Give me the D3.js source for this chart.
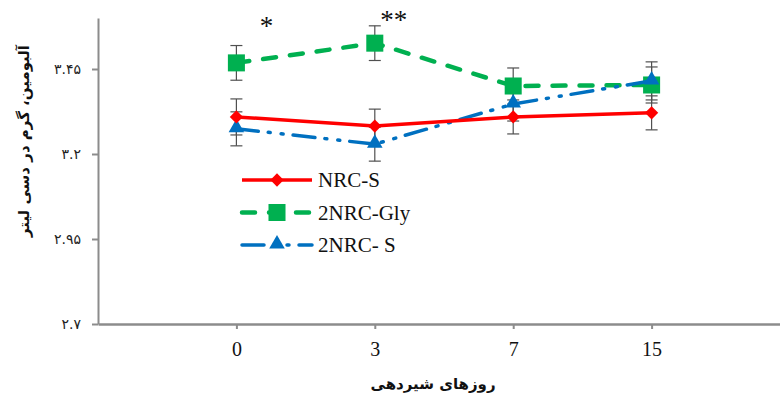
<!DOCTYPE html>
<html>
<head>
<meta charset="utf-8">
<script src="https://cdn.jsdelivr.net/npm/d3@7"></script>
<style>
  body { margin: 0; background: #fff; }
  svg { display: block; }
</style>
</head>
<body>
<div id="chart"></div>
<script>
// days of lactation
var days = ["0", "3", "7", "15"];

// albumin, g/dL
var nrcS = [3.309, 3.282, 3.309, 3.321];
var nrcGly = [3.468, 3.526, 3.400, 3.403];
var nrc2S = [3.274, 3.229, 3.347, 3.415];

// standard errors
var nrcSErr = [0.053, 0.05, 0.05, 0.05];
var nrcGlyErr = [0.051, 0.051, 0.053, 0.053];
var nrc2SErr = [0.05, 0.05, 0.05, 0.056];

var yTicks = [2.7, 2.95, 3.2, 3.45];
var yTickLabels = ["۲.۷", "۲.۹۵", "۳.۲", "۳.۴۵"];

var stars = [{day: "0", label: "*"}, {day: "3", label: "**"}];

var width = 780;
var height = 394;

var svg = d3.select("#chart").append("svg")
    .attr("width", width)
    .attr("height", height);

var x = d3.scaleLinear().domain([-1, 4]).range([98, 790]);
var y = d3.scaleLinear().domain([2.7, 3.6]).range([324, 18]);

var series = [
    {name: "2NRC-Gly", values: nrcGly, err: nrcGlyErr, color: "#00b050", width: 4.5, dash: "13 14", shape: "square"},
    {name: "2NRC- S", values: nrc2S, err: nrc2SErr, color: "#0070c0", width: 3.5, dash: "22 10 2 11 2 10", shape: "triangle"},
    {name: "NRC-S", values: nrcS, err: nrcSErr, color: "#ff0000", width: 3.5, dash: null, shape: "diamond"}
];

function markerPath(shape) {
    if (shape == "square") {
        return d3.symbol().type(d3.symbolSquare).size(290)();
    } else if (shape == "triangle") {
        return d3.symbol().type(d3.symbolTriangle).size(105)();
    } else {
        return d3.symbol().type(d3.symbolSquare).size(88)();
    }
}

function markerTransform(shape, px, py) {
    if (shape == "diamond") {
        return "translate(" + px + "," + py + ") rotate(45)";
    } else if (shape == "triangle") {
        return "translate(" + px + "," + (py - 1) + ")";
    }
    return "translate(" + px + "," + py + ")";
}

// axes
var yAxis = d3.axisLeft(y)
    .tickValues(yTicks)
    .tickFormat(function(d, i) { return yTickLabels[i]; })
    .tickSizeInner(6)
    .tickSizeOuter(0);

var gy = svg.append("g")
    .attr("transform", "translate(" + x(-1) + ",0)")
    .call(yAxis);
gy.select(".domain").attr("stroke", "#8c8c8c").attr("stroke-width", 2);
gy.selectAll(".tick line").attr("stroke", "#8c8c8c").attr("stroke-width", 2);
gy.selectAll(".tick text")
    .attr("x", -17)
    .attr("fill", "#222")
    .style("font-family", "'DejaVu Sans', sans-serif")
    .style("font-size", "14px");

var xAxis = d3.axisBottom(x)
    .tickValues([0, 1, 2, 3])
    .tickFormat(function(d) { return days[d]; })
    .tickSizeInner(5)
    .tickSizeOuter(0);

var gx = svg.append("g")
    .attr("transform", "translate(0," + y(2.7) + ")")
    .call(xAxis);
gx.select(".domain").attr("stroke", "#8c8c8c").attr("stroke-width", 2.5);
gx.selectAll(".tick line").attr("stroke", "#8c8c8c").attr("stroke-width", 2);
gx.selectAll(".tick text")
    .attr("y", 18)
    .attr("fill", "#111")
    .style("font-family", "'Liberation Serif', serif")
    .style("font-size", "20px");

// axis titles
svg.append("text")
    .attr("x", 433)
    .attr("y", 389)
    .attr("text-anchor", "middle")
    .style("font-family", "'DejaVu Sans', sans-serif")
    .style("font-weight", "bold")
    .style("font-size", "15px")
    .attr("fill", "#111")
    .text("روزهای شیردهی");

svg.append("text")
    .attr("transform", "translate(29,141) rotate(-90)")
    .attr("text-anchor", "middle")
    .style("font-family", "'DejaVu Sans', sans-serif")
    .style("font-weight", "bold")
    .style("font-size", "15px")
    .attr("fill", "#111")
    .text("آلبومین، گرم در دسی لیتر");

// error bars
series.forEach(function(s) {
    var g = svg.append("g")
        .attr("stroke", "#505050")
        .attr("stroke-width", 1.2);
    s.values.forEach(function(v, i) {
        var px = x(i);
        var top = y(v + s.err[i]);
        var bot = y(v - s.err[i]);
        g.append("line").attr("x1", px).attr("x2", px).attr("y1", top).attr("y2", bot);
        g.append("line").attr("x1", px - 6).attr("x2", px + 6).attr("y1", top).attr("y2", top);
        g.append("line").attr("x1", px - 6).attr("x2", px + 6).attr("y1", bot).attr("y2", bot);
    });
});

// lines and markers
var line = d3.line()
    .x(function(d, i) { return x(i); })
    .y(function(d) { return y(d); });

series.forEach(function(s) {
    svg.append("path")
        .datum(s.values)
        .attr("d", line)
        .attr("fill", "none")
        .attr("stroke", s.color)
        .attr("stroke-width", s.width)
        .attr("stroke-linecap", s.dash ? "round" : "butt")
        .attr("stroke-dasharray", s.dash);

    svg.append("g")
        .selectAll("path")
        .data(s.values)
        .join("path")
        .attr("d", markerPath(s.shape))
        .attr("transform", function(d, i) { return markerTransform(s.shape, x(i), y(d)); })
        .attr("fill", s.color);
});

// significance marks
svg.append("g")
    .selectAll("text")
    .data(stars)
    .join("text")
    .attr("x", function(d) { return x(days.indexOf(d.day)) + (d.label == "*" ? 30 : 19); })
    .attr("y", function(d) { return d.label == "*" ? 35 : 29; })
    .attr("text-anchor", "middle")
    .style("font-family", "'Liberation Serif', serif")
    .style("font-size", "27px")
    .attr("fill", "#111")
    .text(function(d) { return d.label; });

// legend
var legendOrder = [series[2], series[0], series[1]];
var legend = svg.append("g")
    .selectAll("g")
    .data(legendOrder)
    .join("g")
    .attr("transform", function(d, i) { return "translate(242," + (180 + i * 32.5) + ")"; });

legend.append("line")
    .attr("x1", 0).attr("x2", 70)
    .attr("y1", 0).attr("y2", 0)
    .attr("stroke", function(d) { return d.color; })
    .attr("stroke-width", function(d) { return d.width; })
    .attr("stroke-linecap", function(d) { return d.dash ? "round" : "butt"; })
    .attr("stroke-dasharray", function(d) { return d.dash; });

legend.append("path")
    .attr("d", function(d) { return markerPath(d.shape); })
    .attr("transform", function(d) { return markerTransform(d.shape, 35, 0); })
    .attr("fill", function(d) { return d.color; });

legend.append("text")
    .attr("x", 76)
    .attr("y", 7)
    .style("font-family", "'Liberation Serif', serif")
    .style("font-size", "21px")
    .attr("fill", "#111")
    .text(function(d) { return d.name; });
</script>
</body>
</html>
